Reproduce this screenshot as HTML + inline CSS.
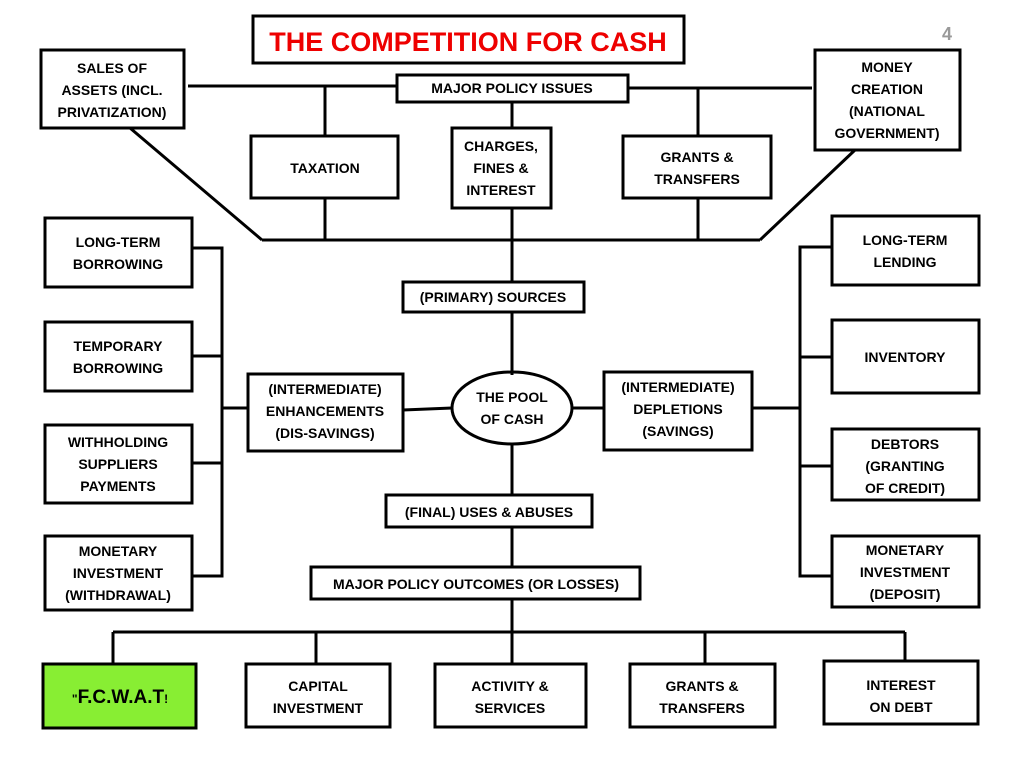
<!DOCTYPE html><html><head><style>body{margin:0;background:#fff}svg text{font-family:"Liberation Sans",sans-serif;font-weight:bold;font-size:14px;text-anchor:middle}</style></head><body>
<svg width="1024" height="768" viewBox="0 0 1024 768" xmlns="http://www.w3.org/2000/svg">
<g stroke="#000" stroke-width="3" fill="none">
<rect x="253" y="16" width="431" height="47"/>
<rect x="41" y="50" width="143" height="78"/>
<rect x="815" y="50" width="145" height="100"/>
<rect x="397" y="75" width="231" height="27"/>
<path d="M188 86H397M628 88H812"/>
<rect x="251" y="136" width="147" height="62"/>
<rect x="452" y="128" width="99" height="80"/>
<rect x="623" y="136" width="148" height="62"/>
<path d="M325 87V136M325 198V240M512 102V128M512 208V282M698 88V136M698 198V240M262 240H760M130 128L262 240M855 150L760 240"/>
<rect x="403" y="282" width="181" height="30"/>
<path d="M512 312V375M512 444V495M512 527V568M512 599V632"/>
<ellipse cx="512" cy="408" rx="60" ry="36"/>
<rect x="248" y="374" width="155" height="77"/>
<rect x="604" y="372" width="148" height="78"/>
<path d="M403 410L452 408M572 408H604"/>
<rect x="45" y="218" width="147" height="69"/>
<rect x="45" y="322" width="147" height="69"/>
<rect x="45" y="425" width="147" height="78"/>
<rect x="45" y="536" width="147" height="74"/>
<path d="M192 248H222V576H192M192 356H222M192 463H222M222 408H248"/>
<rect x="832" y="216" width="147" height="69"/>
<rect x="832" y="320" width="147" height="73"/>
<rect x="832" y="429" width="147" height="71"/>
<rect x="832" y="536" width="147" height="71"/>
<path d="M832 247H800V576H832M832 357H800M832 466H800M752 408H800"/>
<rect x="386" y="495" width="206" height="32"/>
<rect x="311" y="567" width="329" height="32"/>
<path d="M113 632H905M113 632V664M316 632V664M512 632V664M705 632V664M905 632V661"/>
<rect x="43" y="664" width="153" height="64" fill="#88ee33"/>
<rect x="246" y="664" width="144" height="63"/>
<rect x="435" y="664" width="151" height="63"/>
<rect x="630" y="664" width="145" height="63"/>
<rect x="824" y="661" width="154" height="63"/>
</g>
<text x="468" y="51" fill="#e00" style="font-size:27px">THE COMPETITION FOR CASH</text>
<text x="947" y="40" fill="#999" style="font-size:18px">4</text>
<text x="112" y="73">SALES OF</text><text x="112" y="95">ASSETS (INCL.</text><text x="112" y="117">PRIVATIZATION)</text>
<text x="887" y="72">MONEY</text><text x="887" y="94">CREATION</text><text x="887" y="116">(NATIONAL</text><text x="887" y="138">GOVERNMENT)</text>
<text x="512" y="93">MAJOR POLICY ISSUES</text>
<text x="325" y="173">TAXATION</text>
<text x="501" y="151">CHARGES,</text><text x="501" y="173">FINES &amp;</text><text x="501" y="195">INTEREST</text>
<text x="697" y="162">GRANTS &amp;</text><text x="697" y="184">TRANSFERS</text>
<text x="493" y="302">(PRIMARY) SOURCES</text>
<text x="512" y="402">THE POOL</text><text x="512" y="424">OF CASH</text>
<text x="325" y="394">(INTERMEDIATE)</text><text x="325" y="416">ENHANCEMENTS</text><text x="325" y="438">(DIS-SAVINGS)</text>
<text x="678" y="392">(INTERMEDIATE)</text><text x="678" y="414">DEPLETIONS</text><text x="678" y="436">(SAVINGS)</text>
<text x="118" y="247">LONG-TERM</text><text x="118" y="269">BORROWING</text>
<text x="118" y="351">TEMPORARY</text><text x="118" y="373">BORROWING</text>
<text x="118" y="447">WITHHOLDING</text><text x="118" y="469">SUPPLIERS</text><text x="118" y="491">PAYMENTS</text>
<text x="118" y="556">MONETARY</text><text x="118" y="578">INVESTMENT</text><text x="118" y="600">(WITHDRAWAL)</text>
<text x="905" y="245">LONG-TERM</text><text x="905" y="267">LENDING</text>
<text x="905" y="362">INVENTORY</text>
<text x="905" y="449">DEBTORS</text><text x="905" y="471">(GRANTING</text><text x="905" y="493">OF CREDIT)</text>
<text x="905" y="555">MONETARY</text><text x="905" y="577">INVESTMENT</text><text x="905" y="599">(DEPOSIT)</text>
<text x="489" y="517">(FINAL) USES &amp; ABUSES</text>
<text x="476" y="589">MAJOR POLICY OUTCOMES (OR LOSSES)</text>
<text x="120" y="703"><tspan style="font-size:12px">"</tspan><tspan style="font-size:19px">F.C.W.A.T</tspan><tspan style="font-size:12px">!</tspan></text>
<text x="318" y="691">CAPITAL</text><text x="318" y="713">INVESTMENT</text>
<text x="510" y="691">ACTIVITY &amp;</text><text x="510" y="713">SERVICES</text>
<text x="702" y="691">GRANTS &amp;</text><text x="702" y="713">TRANSFERS</text>
<text x="901" y="690">INTEREST</text><text x="901" y="712">ON DEBT</text>
</svg></body></html>
